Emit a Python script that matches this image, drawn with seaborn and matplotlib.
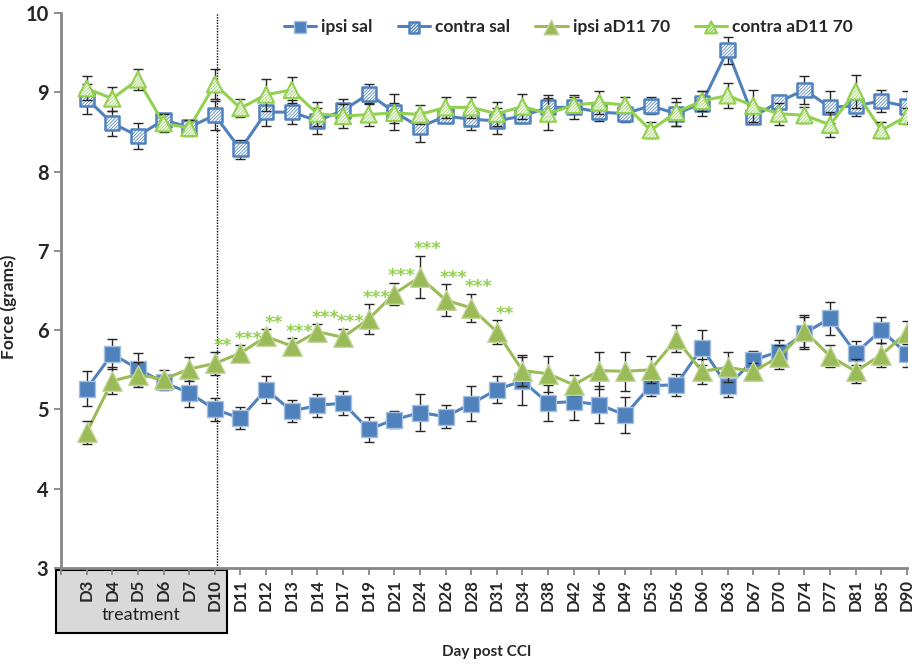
import numpy as np
import pandas as pd
import matplotlib
matplotlib.use("Agg")
import matplotlib.pyplot as plt
import matplotlib.transforms as mtransforms
from matplotlib.lines import Line2D
from matplotlib.patches import Rectangle
import seaborn as sns

sns.set_theme(style="white")
plt.rcParams["font.family"] = ["Lato", "DejaVu Sans"]

# ---------------- data ----------------
days = ["D3", "D4", "D5", "D6", "D7", "D10", "D11", "D12", "D13", "D14", "D17",
        "D19", "D21", "D24", "D26", "D28", "D31", "D34", "D38", "D42", "D46",
        "D49", "D53", "D56", "D60", "D63", "D67", "D70", "D74", "D77", "D81",
        "D85", "D90"]

ipsi_sal = [5.26, 5.70, 5.51, 5.34, 5.21, 5.00, 4.89, 5.25, 4.98, 5.05, 5.08,
            4.75, 4.87, 4.96, 4.91, 5.07, 5.25, 5.36, 5.08, 5.10, 5.06, 4.93,
            5.30, 5.31, 5.78, 5.29, 5.62, 5.73, 5.96, 6.15, 5.71, 6.00, 5.70]
ipsi_sal_err = [0.22, 0.19, 0.20, 0.10, 0.18, 0.15, 0.14, 0.17, 0.14, 0.15, 0.15,
                0.16, 0.11, 0.23, 0.14, 0.22, 0.17, 0.30, 0.23, 0.23, 0.23, 0.23,
                0.13, 0.14, 0.22, 0.13, 0.12, 0.15, 0.20, 0.21, 0.15, 0.16, 0.16]

contra_sal = [8.92, 8.61, 8.45, 8.65, 8.56, 8.71, 8.28, 8.75, 8.75, 8.64, 8.77,
              8.98, 8.75, 8.56, 8.70, 8.66, 8.64, 8.70, 8.81, 8.81, 8.75, 8.73,
              8.83, 8.73, 8.86, 9.53, 8.69, 8.88, 9.03, 8.81, 8.83, 8.89, 8.82]
contra_sal_err = [0.19, 0.16, 0.16, 0.08, 0.08, 0.18, 0.12, 0.17, 0.15, 0.16, 0.14,
                  0.13, 0.23, 0.19, 0.09, 0.14, 0.16, 0.09, 0.15, 0.15, 0.11, 0.11,
                  0.11, 0.15, 0.16, 0.17, 0.08, 0.09, 0.18, 0.20, 0.13, 0.14, 0.20]

ipsi_ad11 = [4.71, 5.36, 5.44, 5.38, 5.51, 5.58, 5.71, 5.92, 5.80, 5.98, 5.91,
             6.14, 6.46, 6.67, 6.38, 6.28, 5.98, 5.49, 5.45, 5.31, 5.49, 5.48,
             5.50, 5.89, 5.48, 5.53, 5.48, 5.66, 5.99, 5.67, 5.48, 5.69, 5.97]
ipsi_ad11_err = [0.14, 0.17, 0.16, 0.12, 0.15, 0.14, 0.10, 0.09, 0.10, 0.10, 0.11,
                 0.19, 0.14, 0.27, 0.20, 0.18, 0.15, 0.20, 0.23, 0.13, 0.23, 0.25,
                 0.17, 0.17, 0.16, 0.19, 0.11, 0.15, 0.20, 0.14, 0.15, 0.15, 0.14]

contra_ad11 = [9.05, 8.92, 9.16, 8.61, 8.55, 9.10, 8.80, 8.97, 9.03, 8.73, 8.70,
               8.72, 8.74, 8.72, 8.81, 8.81, 8.73, 8.82, 8.73, 8.84, 8.87, 8.84,
               8.52, 8.75, 8.89, 8.96, 8.83, 8.73, 8.71, 8.59, 9.01, 8.52, 8.70]
contra_ad11_err = [0.15, 0.15, 0.13, 0.11, 0.10, 0.19, 0.11, 0.20, 0.16, 0.15, 0.15,
                   0.15, 0.13, 0.12, 0.13, 0.13, 0.15, 0.16, 0.20, 0.10, 0.14, 0.10,
                   0.10, 0.18, 0.13, 0.16, 0.20, 0.14, 0.10, 0.16, 0.21, 0.10, 0.10]

# significance of ipsi aD11 70 vs ipsi sal
stars = ["", "", "", "", "", "**", "***", "**", "***", "***", "***",
         "***", "***", "***", "***", "***", "**", "", "", "", "", "",
         "", "", "", "", "", "", "", "", "", "", ""]

series_names = ["ipsi sal", "contra sal", "ipsi aD11 70", "contra aD11 70"]
series_vals = [ipsi_sal, contra_sal, ipsi_ad11, contra_ad11]
series_errs = [ipsi_sal_err, contra_sal_err, ipsi_ad11_err, contra_ad11_err]

df = pd.concat(
    [pd.DataFrame({"pos": np.arange(len(days)), "day": days, "series": n,
                   "force": v, "err": e})
     for n, v, e in zip(series_names, series_vals, series_errs)],
    ignore_index=True)

# ---------------- styles ----------------
BLUE = "#4F81BD"
GREEN = "#9BBB59"
LGREEN = "#92D050"
styles = {
    "ipsi sal": dict(line=BLUE, marker="s", face=BLUE, edge="#A7BFDE",
                     hatch=None, hcol=None, s=140, ew=1.0),
    "contra sal": dict(line=BLUE, marker="s", face="white", edge=BLUE,
                       hatch="/" * 10, hcol="#7FA3D1", s=105, ew=1.8),
    "ipsi aD11 70": dict(line=GREEN, marker="^", face=GREEN, edge="#C3D69B",
                         hatch=None, hcol=None, s=200, ew=1.0),
    "contra aD11 70": dict(line=LGREEN, marker="^", face="white", edge=LGREEN,
                           hatch="/" * 10, hcol="#A9C96E", s=135, ew=1.5),
}

fig, ax = plt.subplots(figsize=(9.15, 6.64), dpi=100)
fig.subplots_adjust(left=61 / 915, right=907 / 915,
                    bottom=1 - 568 / 664, top=1 - 13 / 664)

handles = []
for k, name in enumerate(series_names):
    st = styles[name]
    sub = df[df["series"] == name]
    z = 3 + k
    sns.lineplot(data=sub, x="pos", y="force", color=st["line"], lw=2.2,
                 estimator=None, legend=False, ax=ax, zorder=z)
    ax.errorbar(sub["pos"], sub["force"], yerr=sub["err"], fmt="none",
                ecolor="#262626", elinewidth=1.0, capsize=3.3, capthick=1.0,
                zorder=z + 0.1)
    rc = {"hatch.linewidth": 0.55}
    if st["hcol"]:
        rc["hatch.color"] = st["hcol"]
    with plt.rc_context(rc):
        sns.scatterplot(data=sub, x="pos", y="force", marker=st["marker"],
                        s=st["s"], color=st["face"], edgecolor=st["edge"],
                        linewidth=st["ew"], hatch=st["hatch"], legend=False,
                        ax=ax, zorder=z + 0.2)
    coll = ax.collections[-1]
    handles.append((Line2D([], [], color=st["line"], lw=2.2), coll))

# significance stars
for pos, (v, e, s) in enumerate(zip(ipsi_ad11, ipsi_ad11_err, stars)):
    if s:
        ax.annotate(s, xy=(pos, v + e), xytext=(5.5, 4.5), textcoords="offset points",
                    ha="center", va="center", color=LGREEN, fontsize=12.5,
                    fontweight="bold", family="DejaVu Sans", zorder=10)

# dotted separator line after treatment
ax.axvline(5.08, color="black", lw=1.0, ls=(0, (1, 1)), zorder=2)

# axes formatting
ax.set_xlim(-1, len(days) - 1)
ax.set_ylim(3, 10)
ax.set_xticks(np.arange(-1, len(days)))
ax.set_xticklabels([""] + days, rotation=90, fontweight="bold", fontsize=12)
ax.set_yticks(np.arange(3, 11))
ax.set_yticklabels([str(t) for t in range(3, 11)], fontweight="bold", fontsize=14.5)
ax.tick_params(axis="x", direction="out", length=5, width=1.3, color="#868686",
               pad=3, bottom=True)
ax.tick_params(axis="y", direction="out", length=5, width=1.3, color="#868686",
               pad=4, left=True)
for side in ["top", "right"]:
    ax.spines[side].set_visible(False)
for side in ["left", "bottom"]:
    ax.spines[side].set_color("#868686")
    ax.spines[side].set_linewidth(2.0)

ax.set_ylabel("Force (grams)", fontsize=12.5, fontweight="bold")
ax.yaxis.set_label_coords(-0.052, 0.47)
ax.set_xlabel("Day post CCI", fontsize=11, fontweight="bold")
ax.xaxis.set_label_coords(0.5035, -0.138)

# treatment box below the axis
trans = mtransforms.blended_transform_factory(ax.transData, ax.transAxes)
ax.add_patch(Rectangle((-1.18, -0.1166), 6.66, 0.113, transform=trans,
                       facecolor="#D9D9D9", edgecolor="black", lw=1.5,
                       clip_on=False, zorder=0.5))
ax.text(2.14, -0.085, "treatment", transform=trans, ha="center", va="center",
        fontsize=13, color="#202020")

leg = ax.legend(handles, series_names, loc="center", bbox_to_anchor=(0.60, 0.975),
                ncol=4, frameon=False, fontsize=12.5, handlelength=1.85,
                handletextpad=0.3, columnspacing=1.45, scatterpoints=1,
                markerscale=0.75)
for t in leg.get_texts():
    t.set_fontweight("bold")

fig.savefig("out.png", dpi=100)
